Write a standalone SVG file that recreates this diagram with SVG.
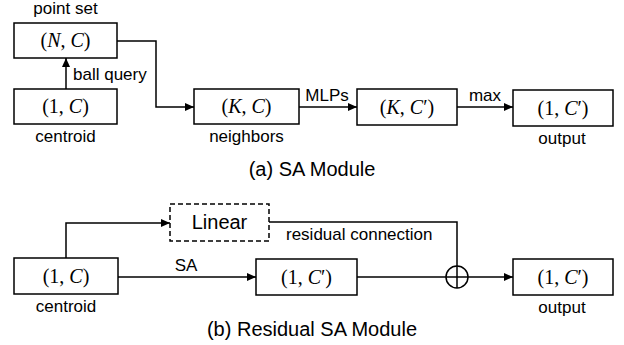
<svg xmlns="http://www.w3.org/2000/svg" width="624" height="345" viewBox="0 0 624 345">
  <style>
    .box { fill: #fff; stroke: #000; stroke-width: 1.5; }
    .dash { fill: #fff; stroke: #000; stroke-width: 1.5; stroke-dasharray: 5 3; }
    .lbl { font-family: "Liberation Sans", Arial, sans-serif; font-size: 17px; fill: #000; }
    .cap { font-family: "Liberation Sans", Arial, sans-serif; font-size: 20px; fill: #000; }
    .math { font-family: "Liberation Serif", "DejaVu Serif", serif; font-size: 20px; fill: #000; }
    .it { font-style: italic; }
    .con { fill: none; stroke: #000; stroke-width: 1.5; }
  </style>
  <defs>
    <marker id="arr" markerUnits="userSpaceOnUse" markerWidth="10" markerHeight="10" refX="9" refY="4" orient="auto">
      <path d="M0,0 L9,4 L0,8 z" fill="#000"/>
    </marker>
  </defs>

  <!-- (a) SA Module -->
  <g id="pointset">
    <rect class="box" x="14" y="23" width="103" height="35"/>
    <text class="math" x="65.5" y="47" text-anchor="middle">(<tspan class="it">N</tspan>, <tspan class="it">C</tspan>)</text>
    <text class="lbl" x="65.5" y="14" text-anchor="middle">point set</text>
  </g>
  <g id="centroid_a">
    <rect class="box" x="14" y="89" width="103" height="35"/>
    <text class="math" x="65.5" y="113" text-anchor="middle">(1, <tspan class="it">C</tspan>)</text>
    <text class="lbl" x="65.5" y="142" text-anchor="middle">centroid</text>
  </g>
  <g id="neighbors">
    <rect class="box" x="194" y="89" width="105" height="35"/>
    <text class="math" x="246.5" y="113" text-anchor="middle">(<tspan class="it">K</tspan>, <tspan class="it">C</tspan>)</text>
    <text class="lbl" x="246.5" y="142" text-anchor="middle">neighbors</text>
  </g>
  <g id="kcprime">
    <rect class="box" x="357" y="89" width="100" height="36"/>
    <text class="math" x="407" y="113.5" text-anchor="middle">(<tspan class="it">K</tspan>, <tspan class="it">C</tspan>′)</text>
  </g>
  <g id="output_a">
    <rect class="box" x="513" y="90" width="100" height="36"/>
    <text class="math" x="563" y="114.5" text-anchor="middle">(1, <tspan class="it">C</tspan>′)</text>
    <text class="lbl" x="562" y="144" text-anchor="middle">output</text>
  </g>
  <text class="cap" x="312" y="176" text-anchor="middle">(a) SA Module</text>

  <!-- (b) Residual SA Module -->
  <g id="linear">
    <rect class="dash" x="170" y="204" width="99" height="37"/>
    <text class="cap" x="219.5" y="229" text-anchor="middle">Linear</text>
  </g>
  <g id="centroid_b">
    <rect class="box" x="14" y="258" width="104" height="36"/>
    <text class="math" x="66" y="283" text-anchor="middle">(1, <tspan class="it">C</tspan>)</text>
    <text class="lbl" x="66" y="312" text-anchor="middle">centroid</text>
  </g>
  <g id="sa_out">
    <rect class="box" x="256" y="259" width="101" height="36"/>
    <text class="math" x="306.5" y="283.5" text-anchor="middle">(1, <tspan class="it">C</tspan>′)</text>
  </g>
  <g id="output_b">
    <rect class="box" x="513" y="259" width="100" height="36"/>
    <text class="math" x="563" y="283.5" text-anchor="middle">(1, <tspan class="it">C</tspan>′)</text>
    <text class="lbl" x="562" y="313" text-anchor="middle">output</text>
  </g>
  <g id="sum">
    <circle class="con" cx="457" cy="277" r="11"/>
  </g>
  <text class="cap" x="312" y="336" text-anchor="middle">(b) Residual SA Module</text>

  <g id="connectors">
    <!-- (a) -->
    <line class="con" x1="66" y1="89" x2="66" y2="58" marker-end="url(#arr)"/>
    <text class="lbl" x="73" y="80">ball query</text>
    <polyline class="con" points="117,41 156,41 156,107 194,107" marker-end="url(#arr)"/>
    <line class="con" x1="299" y1="107" x2="357" y2="107" marker-end="url(#arr)"/>
    <text class="lbl" x="327" y="101" text-anchor="middle">MLPs</text>
    <line class="con" x1="457" y1="107" x2="513" y2="107" marker-end="url(#arr)"/>
    <text class="lbl" x="485" y="101" text-anchor="middle">max</text>
    <!-- (b) -->
    <polyline class="con" points="66,258 66,223 170,223" marker-end="url(#arr)"/>
    <line class="con" x1="118" y1="277" x2="256" y2="277" marker-end="url(#arr)"/>
    <text class="lbl" x="186" y="271" text-anchor="middle">SA</text>
    <polyline class="con" points="269,222 457,222 457,288"/>
    <text class="lbl" x="286" y="240">residual connection</text>
    <line class="con" x1="357" y1="277" x2="513" y2="277" marker-end="url(#arr)"/>
  </g>
</svg>
